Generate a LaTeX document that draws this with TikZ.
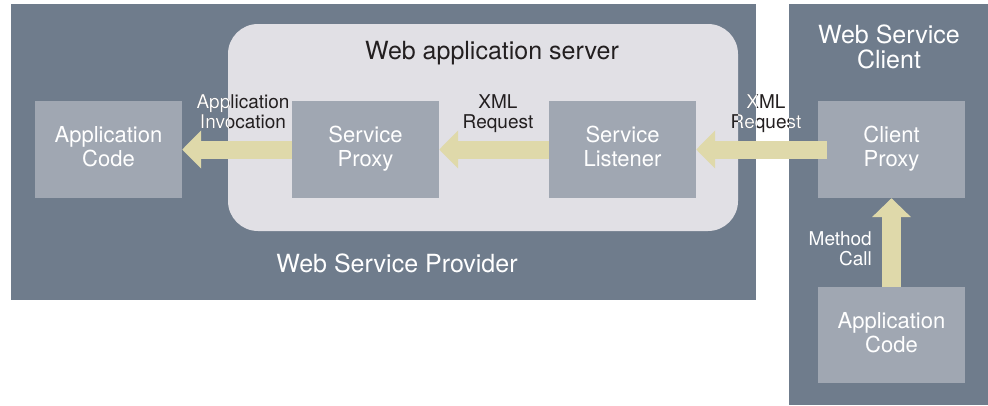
\documentclass[tikz,border=0pt]{standalone}
\usepackage{fontspec}
\setmainfont{TeX Gyre Heros}
\usetikzlibrary{arrows.meta}
\definecolor{darkbg}{RGB}{111,124,140}
\definecolor{serverbg}{RGB}{225,224,229}
\definecolor{boxbg}{RGB}{160,167,178}
\definecolor{arrowc}{RGB}{223,217,170}
\definecolor{txtdark}{RGB}{35,31,32}
\newcommand\darkclip{\clip (11,4) rectangle (756,300) [rounded corners=30pt] (228,24) rectangle (738,231) [sharp corners] (789,4) rectangle (988,405);}
\newcommand\invlabel[3]{%
  \node[lbl, text=txtdark, anchor=base] (#1) at #2 {#3};
  \begin{scope}[even odd rule]\darkclip
    \node[lbl, text=white, anchor=base] (#1w) at #2 {#3};
  \end{scope}}
\begin{document}
\begin{tikzpicture}[x=1pt,y=-1pt,
  comp/.style={fill=boxbg, minimum width=147pt, minimum height=97pt, inner sep=0pt},
  comptext/.style={text=white, align=center, inner sep=0pt, font=\fontsize{22}{23.5}\selectfont},
  flow/.style={draw=arrowc, line width=18pt, -{Triangle[length=19pt,width=37pt]}},
  lbl/.style={font=\fontsize{19}{20}\selectfont, align=center, inner sep=0pt},
  title/.style={font=\fontsize{25}{25}\selectfont, align=center, inner sep=0pt}
]
\useasboundingbox (0,0) rectangle (988,405);
\fill[white] (0,0) rectangle (988,405);
\fill[darkbg] (11,4) rectangle (756,300);
\fill[darkbg] (789,4) rectangle (988,405);
\fill[serverbg, rounded corners=30pt] (228,24) rectangle (738,231);

\node[comp] (ac) at (108.5,149.5) {};
\node[comp] (sp) at (365.5,149.5) {};
\node[comp] (sl) at (622.5,149.5) {};
\node[comp] (cp) at (891.5,149.5) {};
\node[comp, minimum height=96pt] (ca) at (891.5,335) {};

\draw[flow] (sp.west) -- (ac.east);
\draw[flow] (sl.west) -- (sp.east);
\draw[flow] ([xshift=9pt]cp.west) -- (sl.east);
\draw[flow, line width=19pt, -{Triangle[length=19pt,width=38pt]}] (ca.north) -- (cp.south);

\node[comptext, anchor=base] (acT) at (108.5,166) {Application\\Code};
\node[comptext, anchor=base] (spT) at (365.5,166) {Service\\Proxy};
\node[comptext, anchor=base] (slT) at (622.5,166) {Service\\Listener};
\node[comptext, anchor=base] (cpT) at (891.5,166) {Client\\Proxy};
\node[comptext, anchor=base] (caT) at (891.5,352) {Application\\Code};

\node[title, text=txtdark, anchor=base] (srvT) at (492,59) {Web application server};
\node[title, text=white, anchor=base] (provT) at (397,272) {Web Service Provider};
\node[title, text=white, anchor=base] (cliT) at (889,68) {Web Service\\Client};
\node[lbl, align=right, text=white, anchor=base east] (mc) at (872,265) {Method\\Call};

\invlabel{ai}{(243,128)}{Application\\Invocation}
\invlabel{xm}{(498,128)}{XML\\Request}
\invlabel{xr}{(766,128)}{XML\\Request}
\end{tikzpicture}
\end{document}
